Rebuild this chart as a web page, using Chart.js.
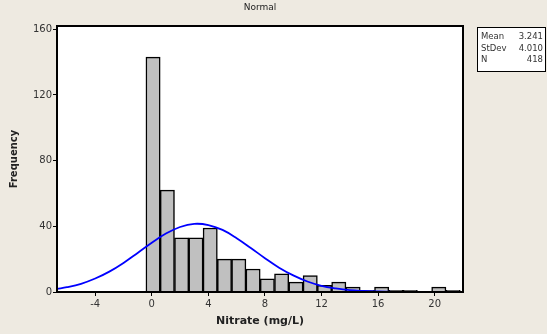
<!DOCTYPE html>
<html>
<head>
<meta charset="utf-8">
<script src="https://cdn.jsdelivr.net/npm/chart.js@4.4.1/dist/chart.umd.min.js"></script>
<style>
  html, body { margin: 0; padding: 0; background: #EEEAE1; }
  #wrap { width: 547px; height: 334px; position: relative; }
</style>
</head>
<body>
<div id="wrap"><canvas id="histChart" width="547" height="334"></canvas></div>
<script>
// bin centres (mg/L) and counts
const binCenters = [0.09, 1.10, 2.11, 3.12, 4.13, 5.14, 6.15, 7.16, 8.17, 9.18, 10.19, 11.20, 12.21, 13.22, 14.23, 15.24, 16.25, 17.26, 18.27, 19.28, 20.29, 21.30];
const binCounts = [143, 62, 33, 33, 39, 20, 20, 14, 8, 11, 6, 10, 4, 6, 3, 1, 3, 1, 1, 0, 3, 1];

// fitted normal curve, read at each x position
const curveX = [-6.7, -6, -5, -4, -3, -2, -1, 0, 1, 2, 3, 4, 5, 6, 7, 8, 9, 10, 11, 12, 13, 14, 15, 16, 17, 18.3];
const curveY = [1.9, 2.9, 5.0, 8.2, 12.4, 17.7, 23.8, 30.0, 35.6, 39.6, 41.5, 40.8, 37.8, 32.8, 26.8, 20.6, 14.8, 10.1, 6.4, 3.8, 2.2, 1.1, 0.6, 0.3, 0.1, 0.0];

const xTicks = [-4, 0, 4, 8, 12, 16, 20];
const yTicks = [0, 40, 80, 120, 160];

const statLabels = ['Mean', 'StDev', 'N'];
const statValues = ['3.241', '4.010', '418'];

const chartTitle = 'Normal';
const xTitle = 'Nitrate (mg/L)';
const yTitle = 'Frequency';

// page background, plot frame, title and stats box
const decorations = {
  id: 'decorations',
  beforeDraw(chart) {
    const ctx = chart.ctx;
    const a = chart.chartArea;
    ctx.save();
    ctx.fillStyle = '#EEEAE1';
    ctx.fillRect(0, 0, chart.width, chart.height);
    ctx.fillStyle = '#FFFFFF';
    ctx.fillRect(a.left, a.top, a.right - a.left, a.bottom - a.top);
    ctx.restore();
  },
  afterDraw(chart) {
    const ctx = chart.ctx;
    const a = chart.chartArea;
    ctx.save();
    ctx.strokeStyle = '#000';
    ctx.lineWidth = 2;
    ctx.strokeRect(a.left, a.top, a.right - a.left, a.bottom - a.top);

    ctx.fillStyle = '#222';
    ctx.font = '9px "DejaVu Sans", sans-serif';
    ctx.textAlign = 'center';
    ctx.textBaseline = 'middle';
    ctx.fillText(chartTitle, (a.left + a.right) / 2, 8);

    // stats box
    ctx.fillStyle = '#FFFFFF';
    ctx.fillRect(477, 27, 68, 44);
    ctx.strokeStyle = '#000';
    ctx.lineWidth = 1;
    ctx.strokeRect(477.5, 27.5, 68, 44);
    ctx.fillStyle = '#333';
    ctx.font = '8.5px "DejaVu Sans", sans-serif';
    ctx.textBaseline = 'alphabetic';
    statLabels.forEach((lab, i) => {
      ctx.textAlign = 'left';
      ctx.fillText(lab, 481, 39 + i * 11.5);
      ctx.textAlign = 'right';
      ctx.fillText(statValues[i], 543, 39 + i * 11.5);
    });
    ctx.restore();
  }
};

const ctx = document.getElementById('histChart');
new Chart(ctx, {
  data: {
    datasets: [
      {
        type: 'line',
        label: 'Normal',
        data: curveX.map((x, i) => ({ x: x, y: curveY[i] })),
        borderColor: '#0000FF',
        borderWidth: 1.8,
        pointRadius: 0,
        tension: 0.4,
        fill: false,
        order: 0
      },
      {
        type: 'bar',
        label: 'Frequency',
        data: binCenters.map((x, i) => ({ x: x, y: binCounts[i] })),
        backgroundColor: '#C0C0C0',
        borderColor: '#000000',
        borderWidth: 1.5,
        barPercentage: 1,
        categoryPercentage: 1,
        order: 1
      }
    ]
  },
  options: {
    responsive: false,
    animation: false,
    layout: { padding: { left: 0, right: 84, top: 26, bottom: 0 } },
    plugins: {
      legend: { display: false },
      tooltip: { enabled: false }
    },
    scales: {
      x: {
        type: 'linear',
        min: -6.7,
        max: 22,
        offset: false,
        afterFit: (scale) => { scale.height = 42; },
        grid: { offset: false, drawOnChartArea: false, drawTicks: true, tickLength: 4, tickWidth: 1, color: '#000' },
        border: { display: true, color: '#000', width: 2 },
        ticks: {
          stepSize: 4,
          includeBounds: false,
          autoSkip: false,
          color: '#333',
          font: { family: 'DejaVu Sans', size: 10 },
          padding: 2,
          maxRotation: 0,
          callback: (v) => xTicks.includes(v) ? String(v) : null
        },
        title: { display: true, text: xTitle, color: '#222', font: { family: 'DejaVu Sans', size: 11, weight: 'bold' }, padding: { top: 0, bottom: 6 } }
      },
      y: {
        min: 0,
        max: 162,
        afterFit: (scale) => { scale.width = 57; },
        grid: { drawOnChartArea: false, drawTicks: true, tickLength: 4, tickWidth: 1, color: '#000' },
        border: { display: true, color: '#000', width: 2 },
        ticks: {
          stepSize: 40,
          includeBounds: false,
          color: '#333',
          font: { family: 'DejaVu Sans', size: 10 },
          padding: 1,
          callback: (v) => yTicks.includes(v) ? String(v) : null
        },
        title: { display: true, text: yTitle, color: '#222', font: { family: 'DejaVu Sans', size: 10, weight: 'bold' }, padding: { top: 8, bottom: 0 } }
      }
    }
  },
  plugins: [decorations]
});
</script>
</body>
</html>
